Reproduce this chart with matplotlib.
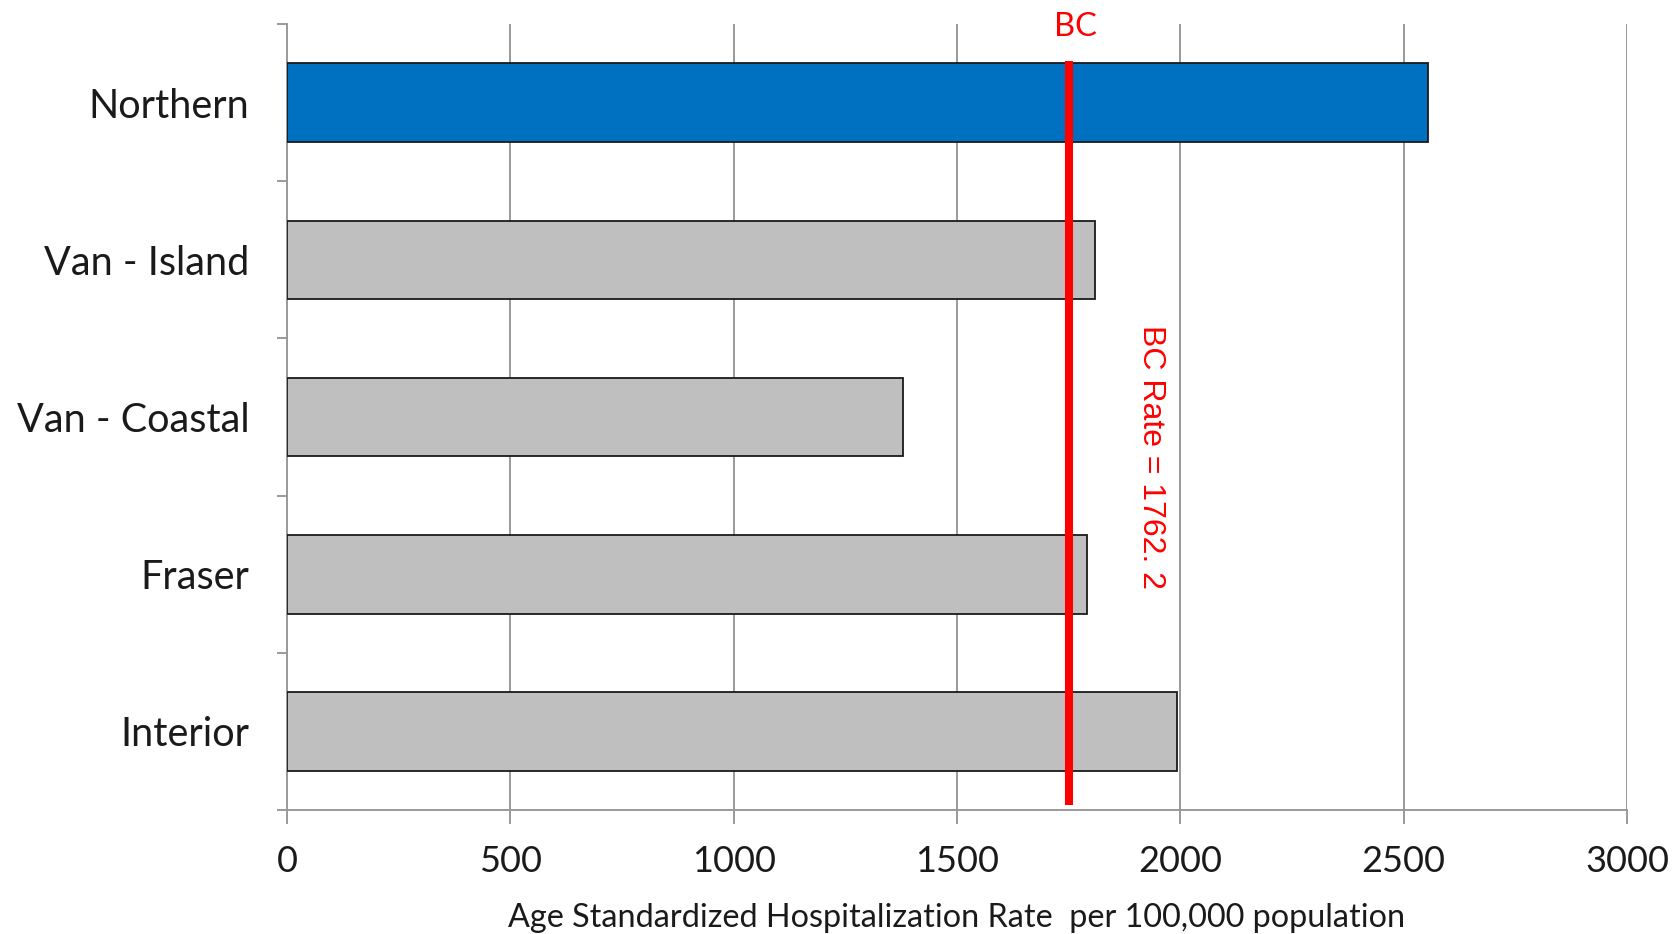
import matplotlib
matplotlib.use("Agg")
import matplotlib.pyplot as plt

categories = ["Northern", "Van - Island", "Van - Coastal", "Fraser", "Interior"]
values = [2555, 1808, 1378, 1790, 1993]
bar_colors = ["#0070C0", "#BFBFBF", "#BFBFBF", "#BFBFBF", "#BFBFBF"]
bc_line_value = 1751
bc_label = "BC Rate = 1762. 2"
x_ticks = [0, 500, 1000, 1500, 2000, 2500, 3000]
x_label = "Age Standardized Hospitalization Rate  per 100,000 population"

plt.rcParams['font.family'] = ['Lato', 'DejaVu Sans']

fig = plt.figure(figsize=(16.73, 9.34), dpi=100)
ax = fig.add_axes([287/1673, 1 - 810/934, (1627-287)/1673, (810-24)/934])

ypos = list(range(len(categories)))
ax.barh(ypos, values, height=0.5, color=bar_colors, edgecolor="#1a1a1a", linewidth=1.3, zorder=3)

ax.set_xlim(0, 3000)
ax.set_ylim(len(categories) - 0.5, -0.5)
ax.set_xticks(x_ticks)
ax.set_xticklabels([str(t) for t in x_ticks])
ax.xaxis.grid(True, color="#9a9a9a", linewidth=1.4, zorder=0)
ax.set_axisbelow(True)

ax.set_yticks([y - 0.5 for y in range(len(categories) + 1)])
ax.set_yticklabels([])
ax.set_yticks(ypos, minor=True)
ax.set_yticklabels(categories, minor=True, fontsize=28.5, color="#1a1a1a")
ax.tick_params(axis='y', which='minor', length=0, pad=27)
ax.tick_params(axis='y', which='major', length=7, width=1.4, color="#9a9a9a")
ax.tick_params(axis='x', length=10, width=1.4, color="#9a9a9a", labelsize=26, labelcolor="#1a1a1a", pad=15.5)

for s in ["top", "right"]:
    ax.spines[s].set_visible(False)
for s in ["left", "bottom"]:
    ax.spines[s].set_color("#9a9a9a")
    ax.spines[s].set_linewidth(1.4)

ax.set_xlabel(x_label, fontsize=23.3, color="#1a1a1a", labelpad=18)

ax.plot([bc_line_value, bc_line_value], [-0.265, 4.47], color="#FF0000", linewidth=5.8, zorder=5, solid_capstyle='butt')
ax.text(bc_line_value + 14, -0.48, "BC", color="#FF0000", fontsize=23.5, ha="center", va="center", zorder=6)
ax.text(1935, 2.254, bc_label, color="#FF0000", fontsize=23, rotation=-90, ha="center", va="center",
        family=["Liberation Sans", "DejaVu Sans"], zorder=6)

fig.savefig("out.png", dpi=100)
